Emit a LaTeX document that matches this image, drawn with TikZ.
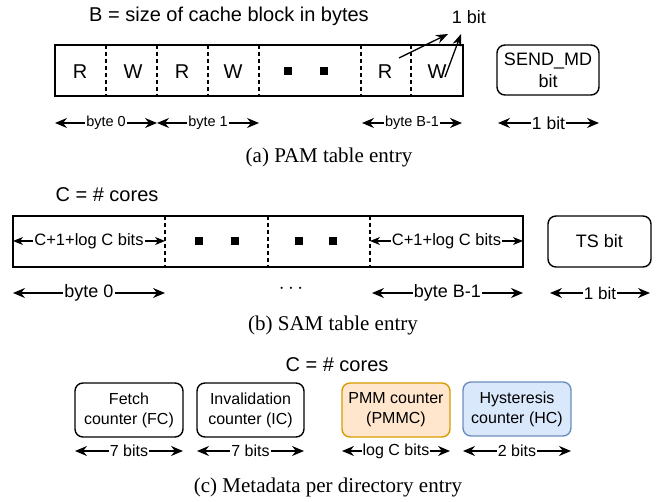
\documentclass[tikz,border=0pt]{standalone}
\usepackage{fontspec}
\setmainfont{Liberation Serif}
\setsansfont{Liberation Sans}
\usetikzlibrary{arrows.meta}
\definecolor{pmmfill}{HTML}{FFE6CC}
\definecolor{pmmdraw}{HTML}{D79B00}
\definecolor{hcfill}{HTML}{DAE8FC}
\definecolor{hcdraw}{HTML}{6C8EBF}
\tikzset{
  sans/.style={font=\sffamily\fontsize{#1}{#1}\selectfont},
  boxfont/.style={font=\sffamily\fontsize{#1}{20}\selectfont},
  capt/.style={font=\rmfamily\fontsize{21}{24}\selectfont},
  entrybox/.style={draw, line width=1.4pt, inner sep=0pt},
  roundbox/.style={draw, line width=1.4pt, rounded corners=8pt, inner sep=0pt, align=center},
  divider/.style={line width=1.1pt, dash pattern=on 4pt off 3pt},
  dimarrow/.style={line width=1.3pt, {Stealth[length=12pt,width=10pt,inset=4pt]}-{Stealth[length=12pt,width=10pt,inset=4pt]}},
  smallarrow/.style={line width=1.3pt, {Stealth[length=10pt,width=8pt,inset=3pt]}-{Stealth[length=10pt,width=8pt,inset=3pt]}},
  ptrarrow/.style={line width=1.3pt, -{Stealth[length=12pt,width=9pt,inset=4pt]}},
  dimlabel/.style={fill=white, inner sep=1pt},
  sq/.style={fill=black, minimum size=8pt, inner sep=0pt}
}
\begin{document}
\begin{tikzpicture}[x=1pt,y=-1pt]
\useasboundingbox (0,0) rectangle (667,502);

% ---------- (a) PAM table entry ----------
\node[sans=20] (titleA) at (229,16) {B = size of cache block in bytes};
\node[sans=18] (onebitA) at (469,17) {1 bit};
\node[entrybox, minimum width=408pt, minimum height=51pt] (pam) at (259,70.5) {};
\foreach \x in {106,157,208,259,361,411} \draw[divider] (\x,45) -- (\x,96);
\node[sans=20] (r0) at (80,72) {R};
\node[sans=20] (w0) at (133,72) {W};
\node[sans=20] (r1) at (182,72) {R};
\node[sans=20] (w1) at (233,72) {W};
\node[sq] (sqa1) at (288,71) {};
\node[sq] (sqa2) at (324,71) {};
\node[sans=20] (rB) at (385,72) {R};
\node[sans=20] (wB) at (437,72) {W};
\coordinate (rBstart) at (399,58);
\coordinate (rBend) at (448,34);
\coordinate (wBstart) at (445,77);
\coordinate (wBend) at (461,34);
\draw[ptrarrow] (rBstart) -- (rBend);
\draw[ptrarrow] (wBstart) -- (wBend);
\node[roundbox, minimum width=102pt, minimum height=50pt, font=\sffamily\fontsize{18}{22}\selectfont] (sendmd) at (548,70) {SEND\_MD\\bit};

\coordinate (a0l) at (55,123); \coordinate (a0r) at (157,123);
\coordinate (a1l) at (157,123); \coordinate (a1r) at (259,123);
\coordinate (aBl) at (362,123); \coordinate (aBr) at (462,123);
\coordinate (aSl) at (498,123); \coordinate (aSr) at (599,123);
\draw[dimarrow] (a0l) -- node[dimlabel, sans=14.5] (lbyte0a) {byte 0} (a0r);
\draw[dimarrow] (a1l) -- node[dimlabel, sans=14.5] (lbyte1a) {byte 1} (a1r);
\draw[dimarrow] (aBl) -- node[dimlabel, sans=14.5] (lbyteBa) {byte B-1} (aBr);
\draw[dimarrow] (aSl) -- node[dimlabel, sans=17.5] (lbita) {1 bit} (aSr);
\node[capt] (captA) at (329,157) {(a) PAM table entry};

% ---------- (b) SAM table entry ----------
\node[sans=20] (titleB) at (107,195) {C = \# cores};
\node[entrybox, minimum width=510pt, minimum height=51pt] (sam) at (268,241.5) {};
\foreach \x in {165,268,370} \draw[divider] (\x,216) -- (\x,267);
\coordinate (b0l) at (13,241); \coordinate (b0r) at (165,241);
\coordinate (b3l) at (370,241); \coordinate (b3r) at (523,241);
\draw[smallarrow] (b0l) -- node[dimlabel, sans=16.5] (lcb0) {C+1+log C bits} (b0r);
\draw[smallarrow] (b3l) -- node[dimlabel, sans=16.5] (lcb3) {C+1+log C bits} (b3r);
\node[sq] (sqb1) at (199,241) {};
\node[sq] (sqb2) at (235,241) {};
\node[sq] (sqb3) at (299,241) {};
\node[sq] (sqb4) at (333,241) {};
\node[roundbox, minimum width=103pt, minimum height=51pt, sans=18] (ts) at (599.5,241.5) {TS bit};

\coordinate (bd0l) at (13,293); \coordinate (bd0r) at (165,293);
\coordinate (bdBl) at (372,293); \coordinate (bdBr) at (523,293);
\coordinate (bdSl) at (550,293); \coordinate (bdSr) at (650,293);
\draw[dimarrow] (bd0l) -- node[dimlabel, sans=18] (lbyte0b) {byte 0} (bd0r);
\node[font=\rmfamily\fontsize{22}{22}\selectfont] (dotsb) at (291,289) {$\cdots$};
\draw[dimarrow] (bdBl) -- node[dimlabel, sans=18] (lbyteBb) {byte B-1} (bdBr);
\draw[dimarrow] (bdSl) -- node[dimlabel, sans=17] (lbitb) {1 bit} (bdSr);
\node[capt] (captB) at (333,325) {(b) SAM table entry};

% ---------- (c) Metadata per directory entry ----------
\node[sans=20] (titleC) at (337,365) {C = \# cores};
\node[roundbox, boxfont=16, minimum width=108pt, minimum height=54pt] (fc) at (129,410) {Fetch\\counter (FC)};
\node[roundbox, boxfont=16, minimum width=107pt, minimum height=54pt] (ic) at (250.5,410) {Invalidation\\counter (IC)};
\node[roundbox, boxfont=16, draw=pmmdraw, fill=pmmfill, minimum width=108pt, minimum height=54pt] (pmm) at (396,410) {PMM counter\\(PMMC)};
\node[roundbox, boxfont=16, draw=hcdraw, fill=hcfill, minimum width=108pt, minimum height=54pt] (hc) at (517,409) {Hysteresis\\counter (HC)};

\coordinate (c1l) at (75,451); \coordinate (c1r) at (183,451);
\coordinate (c2l) at (197,451); \coordinate (c2r) at (304,451);
\coordinate (c3l) at (342,451); \coordinate (c3r) at (450,451);
\coordinate (c4l) at (463,451); \coordinate (c4r) at (571,451);
\draw[dimarrow] (c1l) -- node[dimlabel, sans=16] (l7a) {7 bits} (c1r);
\draw[dimarrow] (c2l) -- node[dimlabel, sans=16] (l7b) {7 bits} (c2r);
\draw[dimarrow] (c3l) -- node[dimlabel, sans=16] (llogc) {log C bits} (c3r);
\draw[dimarrow] (c4l) -- node[dimlabel, sans=16] (l2b) {2 bits} (c4r);
\node[capt] (captC) at (328,487) {(c) Metadata per directory entry};
\end{tikzpicture}
\end{document}
